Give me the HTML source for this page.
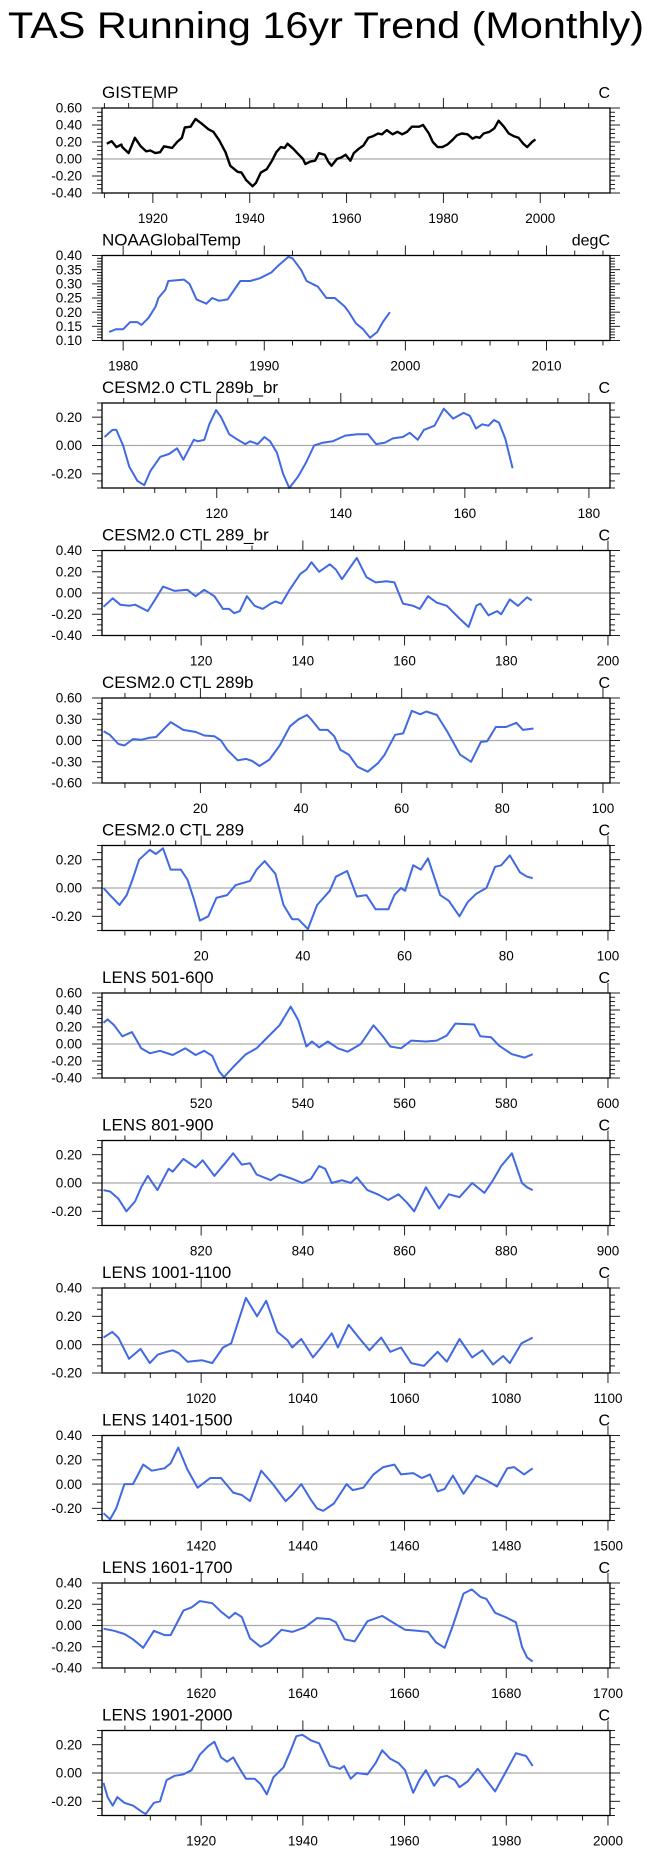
<!DOCTYPE html>
<html><head><meta charset="utf-8">
<style>
html,body{margin:0;padding:0;background:#fff;}
svg{display:block;font-family:"Liberation Sans",Arial,sans-serif;}
</style></head>
<body>
<svg id="chart" width="653" height="1854" viewBox="0 0 653 1854" xmlns="http://www.w3.org/2000/svg">
<text x="8" y="38" font-size="37" textLength="636" lengthAdjust="spacingAndGlyphs">TAS Running 16yr Trend (Monthly)</text>
</svg>
<script>
// ---- data (x in time units, y in degC trend) ----
const gisX=[1910.5,1911.5,1912.5,1913.5,1913.7,1915,1916.3,1917.5,1918.6,1919.5,1920.5,1921.5,1922.3,1924,1925,1926,1926.6,1927.8,1928.8,1930,1931.5,1932.5,1933.7,1935,1936,1937.5,1938.3,1939.3,1940.6,1941.3,1942.3,1943.5,1944.6,1945.5,1946.4,1947.2,1947.8,1949,1950,1951,1951.5,1952.5,1953.5,1954.3,1955.5,1956.2,1956.9,1958,1959,1959.8,1960.8,1961.5,1962.5,1963.5,1964.5,1965.5,1966.5,1967.3,1968.3,1969.5,1970.5,1971.5,1972.5,1973.5,1975,1975.8,1977,1977.8,1978.8,1979.8,1980.8,1981.8,1982.8,1983.8,1985,1986,1986.8,1987.5,1988.3,1989.5,1990.5,1991.4,1992.5,1993.5,1994.5,1995.5,1996.5,1997.3,1998.3,1999];
const gisY=[0.18,0.21,0.14,0.17,0.14,0.07,0.25,0.15,0.09,0.10,0.07,0.08,0.15,0.13,0.20,0.25,0.37,0.38,0.47,0.42,0.35,0.32,0.22,0.08,-0.08,-0.15,-0.16,-0.25,-0.32,-0.28,-0.16,-0.12,-0.02,0.08,0.14,0.13,0.18,0.12,0.06,0.0,-0.06,-0.03,-0.02,0.07,0.05,-0.03,-0.08,0.0,0.02,0.05,-0.02,0.07,0.12,0.16,0.25,0.27,0.30,0.29,0.34,0.29,0.32,0.29,0.32,0.38,0.38,0.40,0.30,0.20,0.14,0.14,0.17,0.22,0.28,0.30,0.29,0.24,0.26,0.25,0.30,0.32,0.36,0.45,0.38,0.30,0.27,0.25,0.18,0.14,0.20,0.23];
const noaaX=[1979,1979.5,1980,1980.5,1981,1981.3,1981.8,1982.3,1982.5,1983,1983.2,1984.3,1984.7,1985.2,1985.9,1986.3,1986.8,1987.4,1988.3,1989,1989.7,1990.5,1990.9,1991.7,1992,1992.6,1993,1993.8,1994.4,1995,1995.7,1996,1996.5,1997,1997.5,1998,1998.4,1998.9];
const noaaY=[0.13,0.14,0.14,0.165,0.165,0.155,0.18,0.22,0.25,0.28,0.31,0.315,0.30,0.245,0.23,0.25,0.24,0.245,0.31,0.31,0.32,0.34,0.36,0.395,0.39,0.35,0.31,0.29,0.25,0.25,0.22,0.20,0.16,0.14,0.11,0.13,0.165,0.20];
const c289bbrX=[101.9,103.2,103.8,104.9,105.9,107.2,108.3,109.3,110.1,110.9,112.3,113.6,114.6,116.3,117,118,118.8,119.9,120.7,122,123.4,124.6,125.4,126.6,127.7,128.6,129.7,130.7,131.7,133.1,134.4,135.7,137.1,138.7,140.7,142.7,144.4,145.7,147.1,148.4,150,151.1,152.4,153.4,155.1,156.6,158.1,159.8,160.8,161.8,162.8,163.8,164.7,165.5,166.5,167.7];
const c289bbrY=[0.06,0.11,0.11,0.0,-0.15,-0.25,-0.28,-0.18,-0.13,-0.08,-0.06,-0.02,-0.10,0.04,0.03,0.04,0.15,0.25,0.20,0.08,0.04,0.01,0.03,0.01,0.06,0.03,-0.05,-0.20,-0.30,-0.22,-0.12,0.0,0.02,0.03,0.07,0.08,0.08,0.01,0.02,0.05,0.06,0.09,0.04,0.11,0.14,0.26,0.19,0.23,0.21,0.12,0.15,0.14,0.18,0.16,0.05,-0.16];
const c289brX=[100.8,102.6,104.1,105.8,107,109.5,111.1,112.5,114.8,117.3,118.9,120.6,122.6,124.3,125.5,126.5,127.6,129,130.5,132.1,133.7,134.6,135.8,137.4,139.5,140.7,141.7,143.2,145.3,146.5,147.7,149,150.6,152.5,154.3,156.4,158,159.7,161.7,163,164.6,166.3,168.3,170.8,172.6,174.1,174.9,176.5,178.2,179,180.7,182.3,184.1,185];
const c289brY=[-0.13,-0.05,-0.11,-0.12,-0.11,-0.17,-0.05,0.06,0.02,0.03,-0.03,0.03,-0.03,-0.15,-0.15,-0.19,-0.17,-0.03,-0.12,-0.15,-0.10,-0.08,-0.10,0.03,0.18,0.22,0.29,0.20,0.27,0.22,0.13,0.22,0.33,0.15,0.10,0.11,0.10,-0.10,-0.12,-0.15,-0.03,-0.09,-0.12,-0.24,-0.32,-0.12,-0.10,-0.21,-0.17,-0.20,-0.06,-0.12,-0.04,-0.07];
const c289bX=[0.75,2,3.7,4.9,6.6,8.25,9.9,11.2,14.1,16.6,19.1,20.75,22.8,24.1,25.3,27.4,29.1,30.3,31.75,33.7,35.75,37.8,39.5,41.2,42,43.7,45.3,46.6,47.8,49.5,51.2,53.25,55.3,56.6,58.7,60.3,62,63.7,64.9,67,69.1,71.6,73.8,75.75,77,78.7,80.75,82.8,84.1,86.2];
const c289bY=[0.13,0.08,-0.05,-0.07,0.02,0.01,0.04,0.05,0.26,0.15,0.12,0.07,0.06,0.0,-0.13,-0.28,-0.26,-0.29,-0.36,-0.27,-0.07,0.20,0.30,0.36,0.30,0.15,0.15,0.06,-0.13,-0.20,-0.37,-0.44,-0.32,-0.20,0.08,0.10,0.42,0.37,0.41,0.36,0.12,-0.20,-0.30,-0.02,-0.01,0.19,0.19,0.25,0.15,0.17];
const c289X=[0.8,2.05,3.95,5.35,6.6,7.8,9.9,11.1,12.5,14,16,17.3,18.5,19.75,21.4,23,25.1,26.75,29.6,30.9,32.5,34.6,36.2,37.9,39.1,41,42.8,45.3,46.5,48.7,50.6,52.5,54.3,56.8,58,59.3,60.1,61.7,63.2,64.6,65.8,67,68.7,70.8,72.4,74.1,76.1,77.8,79,80.7,82.7,84.1,85.2];
const c289Y=[0.0,-0.05,-0.12,-0.05,0.07,0.20,0.27,0.24,0.28,0.13,0.13,0.06,-0.07,-0.23,-0.20,-0.07,-0.05,0.02,0.05,0.13,0.19,0.10,-0.12,-0.22,-0.22,-0.29,-0.12,-0.02,0.08,0.12,-0.06,-0.05,-0.15,-0.15,-0.05,0.0,-0.02,0.16,0.13,0.21,0.08,-0.05,-0.09,-0.20,-0.10,-0.04,0.0,0.15,0.16,0.23,0.11,0.08,0.07];
const l501X=[500.8,501.6,502.9,504.5,506.4,508.2,509.9,511.9,514.4,516.9,518.9,520.6,522.2,523.5,524.5,526.3,528.8,530.9,532.9,535.4,537.6,539.1,540.7,541.8,543.2,544.9,546.9,548.8,551.4,553.9,555.6,557.2,559.3,561.3,564.2,566.3,568.3,570,573.7,574.9,577,578.6,581.1,583.6,585.2];
const l501Y=[0.25,0.29,0.22,0.09,0.14,-0.05,-0.11,-0.08,-0.13,-0.05,-0.13,-0.08,-0.14,-0.32,-0.39,-0.27,-0.12,-0.05,0.07,0.22,0.44,0.28,-0.03,0.03,-0.04,0.03,-0.05,-0.09,0.0,0.22,0.10,-0.03,-0.05,0.04,0.03,0.04,0.10,0.24,0.23,0.09,0.08,-0.02,-0.12,-0.16,-0.12];
const l801X=[800.8,802.1,803.7,805.3,807,808.2,809.5,811.4,813.6,814.4,816.5,818.9,820.3,822.6,824.7,826.3,828,829.6,830.9,833.7,835.4,837.9,839.9,841.6,843.2,844.4,845.7,847.7,849.4,850.6,852.7,854.7,856.8,858.8,860.5,861.9,864.2,866.8,868.7,870.8,873.3,875.7,877.4,879,881.1,883.1,884.1,885.2];
const l801Y=[-0.05,-0.06,-0.11,-0.20,-0.13,-0.03,0.05,-0.05,0.10,0.08,0.17,0.11,0.16,0.05,0.14,0.21,0.13,0.14,0.06,0.02,0.06,0.03,0.0,0.03,0.12,0.10,0.0,0.02,0.0,0.04,-0.05,-0.08,-0.12,-0.08,-0.14,-0.20,-0.03,-0.18,-0.08,-0.10,0.0,-0.07,0.02,0.12,0.21,0.0,-0.03,-0.05];
const l1001X=[1000.8,1002.5,1003.7,1005.8,1008.1,1009.9,1011.5,1013.2,1014.4,1015.6,1017.3,1020.2,1022.2,1024.3,1025.9,1028.8,1031,1032.8,1035,1037,1037.9,1039.7,1042,1043.6,1045.7,1046.9,1049,1051,1053.1,1055.4,1057.2,1059.3,1061.3,1063.8,1066.5,1068.3,1070.8,1073.3,1075.3,1077.4,1079.4,1080.7,1083,1085.2];
const l1001Y=[0.05,0.09,0.05,-0.10,-0.03,-0.13,-0.07,-0.05,-0.04,-0.06,-0.12,-0.11,-0.13,-0.02,0.01,0.33,0.20,0.31,0.09,0.03,-0.02,0.04,-0.09,-0.02,0.08,-0.02,0.14,0.05,-0.04,0.05,-0.05,-0.02,-0.13,-0.15,-0.05,-0.12,0.04,-0.09,-0.04,-0.14,-0.08,-0.13,0.01,0.05];
const l1401X=[1400.8,1402.1,1403.3,1404.9,1406.6,1408.6,1410.3,1412.8,1414,1415.5,1417.3,1419.3,1421.8,1423.9,1426.3,1428,1429.6,1431.8,1434.1,1436.6,1437.9,1439.7,1441.6,1442.8,1444,1446.1,1448.6,1449.8,1451.9,1453.9,1455.8,1458,1459.3,1461.7,1463.4,1465,1466.5,1467.9,1469.5,1471.6,1474.1,1476.1,1478.2,1480.2,1481.5,1483.5,1485.2];
const l1401Y=[-0.24,-0.29,-0.20,0.0,0.0,0.16,0.11,0.13,0.17,0.30,0.12,-0.03,0.05,0.05,-0.07,-0.09,-0.14,0.11,0.0,-0.14,-0.09,0.0,-0.13,-0.20,-0.22,-0.16,0.0,-0.05,-0.03,0.08,0.14,0.16,0.08,0.09,0.05,0.08,-0.06,-0.04,0.07,-0.08,0.07,0.03,-0.02,0.13,0.14,0.08,0.13];
const l1601X=[1600.8,1602.9,1604.9,1606.6,1608.6,1610.7,1612.8,1614,1616.5,1618.1,1619.75,1622.2,1623.9,1625.5,1626.7,1628,1629.6,1631.7,1633.3,1635.8,1637.9,1640.3,1642.8,1645.3,1646.5,1648.2,1650.2,1652.7,1655.6,1658,1660.1,1662.5,1664.6,1666.2,1667.9,1669.5,1671.6,1673.2,1674.9,1676.1,1677.8,1679.8,1681.9,1683.1,1684.1,1685.2];
const l1601Y=[-0.03,-0.05,-0.08,-0.13,-0.21,-0.05,-0.09,-0.09,0.14,0.17,0.23,0.21,0.13,0.07,0.12,0.08,-0.12,-0.20,-0.16,-0.04,-0.06,-0.02,0.07,0.06,0.03,-0.13,-0.15,0.04,0.09,0.02,-0.04,-0.05,-0.06,-0.16,-0.21,0.0,0.30,0.34,0.27,0.25,0.12,0.08,0.03,-0.20,-0.30,-0.34];
const l1901X=[1900.8,1901.6,1902.6,1903.5,1904.9,1906.6,1908.2,1909.1,1910.7,1911.9,1913.2,1914.8,1916.5,1918.1,1919.75,1921.4,1922.6,1923.9,1925.1,1926.3,1927.6,1928.8,1930.5,1931.7,1932.9,1934.2,1936.2,1937.4,1938.7,1939.9,1941.6,1943.2,1945.3,1947.3,1948.1,1949.4,1950.6,1952.7,1954.3,1955.6,1957.2,1958.8,1960.1,1961.7,1962.9,1964.2,1965.8,1967,1968.3,1969.9,1970.8,1972.4,1974.4,1976.1,1977.8,1979.8,1981.9,1983.9,1985.2];
const l1901Y=[-0.07,-0.17,-0.23,-0.17,-0.21,-0.23,-0.27,-0.29,-0.21,-0.20,-0.05,-0.02,-0.01,0.02,0.13,0.19,0.22,0.11,0.08,0.11,0.03,-0.04,-0.04,-0.08,-0.15,-0.03,0.04,0.14,0.26,0.27,0.23,0.21,0.05,0.03,0.05,-0.04,0.0,-0.01,0.07,0.16,0.10,0.07,0.02,-0.14,-0.05,0.02,-0.09,-0.03,-0.02,-0.05,-0.10,-0.06,0.03,-0.05,-0.13,0.0,0.14,0.12,0.05];

// panel titles, units and axis ranges
const panelTitles=["GISTEMP","NOAAGlobalTemp","CESM2.0 CTL 289b_br","CESM2.0 CTL 289_br","CESM2.0 CTL 289b","CESM2.0 CTL 289","LENS 501-600","LENS 801-900","LENS 1001-1100","LENS 1401-1500","LENS 1601-1700","LENS 1901-2000"];
const panelUnits=["C","degC","C","C","C","C","C","C","C","C","C","C"];
const xMins=[1909.5,1978.5,101.5,100.5,0.44,0.5,500.5,800.5,1000.5,1400.5,1600.5,1900.5];
const xMaxs=[2014.4,2014.5,183.4,200.4,101.4,100.4,600.4,900.4,1100.4,1500.4,1700.4,2000.4];
const xSteps=[20,10,20,20,20,20,20,20,20,20,20,20];
const yMins=[-0.4,0.1,-0.3,-0.4,-0.6,-0.3,-0.4,-0.3,-0.2,-0.3,-0.4,-0.3];
const yMaxs=[0.6,0.4,0.3,0.4,0.6,0.3,0.6,0.3,0.4,0.4,0.4,0.3];
const ySteps=[0.2,0.05,0.2,0.2,0.3,0.2,0.2,0.2,0.2,0.2,0.2,0.2];
const seriesX=[gisX,noaaX,c289bbrX,c289brX,c289bX,c289X,l501X,l801X,l1001X,l1401X,l1601X,l1901X];
const seriesY=[gisY,noaaY,c289bbrY,c289brY,c289bY,c289Y,l501Y,l801Y,l1001Y,l1401Y,l1601Y,l1901Y];
const slugs=["gistemp","noaa","cesm-289b-br","cesm-289-br","cesm-289b","cesm-289","lens-501-600","lens-801-900","lens-1001-1100","lens-1401-1500","lens-1601-1700","lens-1901-2000"];

const NS="http://www.w3.org/2000/svg";
const svg=document.getElementById('chart');
const L=102,R=610,H=85;
function mk(tag,attrs,parent){const e=document.createElementNS(NS,tag);for(const k in attrs)e.setAttribute(k,attrs[k]);parent.appendChild(e);return e;}

for(let i=0;i<12;i++){
  const T=108+147.5*i, B=T+H;
  const x0=xMins[i],x1=xMaxs[i],y0=yMins[i],y1=yMaxs[i];
  const sx=v=>L+(v-x0)/(x1-x0)*(R-L);
  const sy=v=>B-(v-y0)/(y1-y0)*H;
  const g=mk('g',{},svg);
  
  

  const t=mk('text',{x:L,y:T-10,'font-size':17},g);
  t.textContent=panelTitles[i];
  
  
  const u=mk('text',{x:R,y:T-10,'font-size':16,'text-anchor':'end'},g);
  u.textContent=panelUnits[i];
  
  

  // zero line
  if(y0<0&&y1>0){
    const z=mk('line',{x1:L,x2:R,y1:sy(0),y2:sy(0),stroke:'#aaa','stroke-width':1.2},g);
    
    
  }

  // y ticks
  const ys=ySteps[i], yminor=(i===1)?0.01:ys/4;
  const ticks=mk('g',{stroke:'#222','stroke-width':1},g);
  
  
  for(let k=Math.ceil(y0/yminor-1e-6);k*yminor<=y1+1e-6;k++){
    const v=k*yminor, y=sy(v);
    const major=Math.abs(v/ys-Math.round(v/ys))<1e-4;
    const len=major?10:5;
    mk('line',{x1:L-len,x2:L,y1:y,y2:y},ticks);
    mk('line',{x1:R,x2:R+len,y1:y,y2:y},ticks);
    if(major){
      const lb=mk('text',{x:82,y:y+4.7,'font-size':13.5,'text-anchor':'end'},g);
      lb.textContent=(Math.abs(v)<1e-6?0:v).toFixed(2);
      
      
    }
  }
  // x ticks
  const xs=xSteps[i], xminor=(xs===10)?2:5;
  for(let k=Math.ceil(x0/xminor);k*xminor<=x1;k++){
    const v=k*xminor, x=sx(v);
    const major=(v%xs)===0;
    const len=major?10:5;
    mk('line',{x1:x,x2:x,y1:B,y2:B+len},ticks);
    mk('line',{x1:x,x2:x,y1:T-len,y2:T},ticks);
    if(major){
      const lb=mk('text',{x:x,y:B+30,'font-size':13.5,'text-anchor':'middle'},g);
      lb.textContent=String(v);
      
      
    }
  }

  // series
  const xsArr=seriesX[i], ysArr=seriesY[i];
  let d='';
  for(let j=0;j<xsArr.length;j++){d+=(j?'L':'M')+sx(xsArr[j]).toFixed(1)+','+sy(ysArr[j]).toFixed(1);}
  const p=mk('path',{d:d,fill:'none',stroke:i===0?'#000':'#4169e1','stroke-width':i===0?2.4:2,'stroke-linejoin':'round'},g);
  
  

  // frame
  const fr=mk('rect',{x:L,y:T,width:R-L,height:H,fill:'none',stroke:'#000','stroke-width':1.3},g);
  
  
}
</script>
</body></html>
